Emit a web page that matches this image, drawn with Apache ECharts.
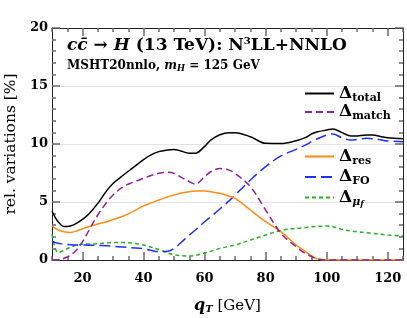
<!DOCTYPE html>
<html>
<head>
<meta charset="utf-8">
<script src="https://cdn.jsdelivr.net/npm/echarts@6/dist/echarts.min.js"></script>
<style>html,body{margin:0;padding:0;background:#fff}#c{width:407px;height:318px}</style>
</head>
<body>
<div id="c"></div>
<script>
// q_T grid [GeV]
const qValues = [10,11,12,14,16,18,20,22,25,28,30,33,36,40,42,45,48,50,52,55,57,60,62,65,68,70,75,80,85,90,93,95,97,100,102,105,108,110,113,115,118,120,125];
// relative variations [%]
const deltaTotal = [4.2,3.7,3.3,2.88,2.93,3.16,3.5,3.94,4.88,6.0,6.6,7.24,7.85,8.65,9.0,9.34,9.48,9.52,9.42,9.2,9.2,9.8,10.34,10.8,10.98,10.98,10.63,10.06,10.04,10.28,10.55,10.86,11.05,11.2,11.3,10.98,10.69,10.7,10.78,10.78,10.63,10.54,10.46];
const deltaMatch = [0,0,0.02,0.15,0.4,0.86,1.58,2.5,3.88,5.0,5.6,6.26,6.65,7.04,7.24,7.47,7.56,7.47,7.18,6.75,6.55,7.18,7.61,7.88,7.75,7.47,6.32,4.31,2.3,1.15,0.55,0.3,0.08,0,0,0,0,0,0,0,0,0,0];
const deltaRes = [2.93,2.75,2.59,2.44,2.38,2.5,2.7,2.87,3.1,3.3,3.5,3.75,4.1,4.66,4.88,5.17,5.46,5.6,5.75,5.89,5.95,5.95,5.89,5.75,5.5,5.32,4.31,3.3,2.44,1.29,0.72,0.38,0.1,0,0,0,0,0,0,0,0,0,0];
const deltaFO = [1.65,1.5,1.45,1.35,1.32,1.3,1.29,1.28,1.25,1.22,1.18,1.12,1.06,0.98,0.86,0.72,0.75,1.0,1.44,2.15,2.59,3.3,3.73,4.4,5.1,5.6,6.9,8.05,8.97,9.54,9.9,10.2,10.45,10.78,10.86,10.54,10.34,10.4,10.49,10.46,10.34,10.26,10.2];
const deltaMuF = [2.2,1.05,0.65,0.85,1.1,1.27,1.35,1.38,1.4,1.47,1.5,1.5,1.47,1.29,1.15,0.9,0.6,0.45,0.37,0.34,0.4,0.6,0.75,1.0,1.18,1.29,1.72,2.15,2.55,2.73,2.8,2.87,2.9,2.93,2.87,2.64,2.5,2.44,2.36,2.3,2.21,2.15,2.07];
// axis ticks
const xTickLabels = [20,40,60,80,100,120];
const yTickLabels = [0,5,10,15,20];

const serif = 'DejaVu Serif';
const pairs = arr => qValues.map((q,i)=>[q,arr[i]]);
const TC = 'dimgray';

const chart = echarts.init(document.getElementById('c'));

const xBase = () => ({type:'value', min:10, max:125, splitLine:{show:false}});
const yBase = () => ({type:'value', min:0, max:20, splitLine:{show:false}});

const legendNames = {
  total:'{d|Δ}{s|total}', match:'{d|Δ}{s|match}', res:'{d|Δ}{s|res}', FO:'{d|Δ}{s|FO}', muf:'{d|Δ}{m|μ}{f|f}'
};
const legendRich = {
  d:{fontFamily:serif, fontWeight:'bold', fontSize:17, lineHeight:20, color:'#000', verticalAlign:'middle'},
  s:{fontFamily:serif, fontWeight:'bold', fontSize:11, lineHeight:11, color:'#000', verticalAlign:'bottom'},
  m:{fontFamily:serif, fontWeight:'bold', fontStyle:'italic', fontSize:11, lineHeight:11, color:'#000', verticalAlign:'bottom'},
  f:{fontFamily:serif, fontWeight:'bold', fontStyle:'italic', fontSize:8, lineHeight:6, color:'#000', verticalAlign:'bottom'}
};
function legend(names, top, gap) {
  return {
    show:true, data:names, orient:'vertical', left:299, top:top, itemWidth:29, itemHeight:14, itemGap:gap,
    selectedMode:false, itemStyle:{color:'rgba(0,0,0,0)', borderWidth:0},
    formatter: n => legendNames[n],
    textStyle:{rich:legendRich}
  };
}
function line(name, arr, color, type, width, z) {
  return {
    name, type:'line', data:pairs(arr), smooth:0.35, showSymbol:false, symbol:'none', z:z||2,
    xAxisIndex:0, yAxisIndex:0,
    lineStyle:{color, width:width||1.5, type}, itemStyle:{color}
  };
}

const bI = {fontFamily:serif, fontWeight:'bold', fontStyle:'italic', fontSize:17, color:'#000'};
const bR = {fontFamily:serif, fontWeight:'bold', fontSize:17, color:'#000'};
chart.setOption({
  animation:false,
  grid:{left:52, right:4, top:28, bottom:58, outerBoundsMode:'none'},
  title:{
    left:62, top:31, itemGap:4,
    text:'{i|cc̄}{r| → }{i|H}{r| (13 TeV): N}{sup|3}{r|LL+NNLO}',
    textStyle:{fontFamily:serif, fontWeight:'bold', fontSize:17, color:'#000',
      rich:{ i:bI, r:bR,
        sup:{fontFamily:serif, fontWeight:'bold', fontSize:10, color:'#000', verticalAlign:'top', lineHeight:20}
      }},
    subtext:'{r|MSHT20nnlo, }{i|m}{sub|H}{r| = 125 GeV}',
    subtextStyle:{fontFamily:serif, fontWeight:'bold', fontSize:12, color:'#000',
      rich:{
        r:{fontFamily:serif, fontWeight:'bold', fontSize:12, color:'#000'},
        i:{fontFamily:serif, fontWeight:'bold', fontStyle:'italic', fontSize:12, color:'#000'},
        sub:{fontFamily:serif, fontWeight:'bold', fontStyle:'italic', fontSize:8.5, color:'#000', verticalAlign:'bottom', lineHeight:15}
      }}
  },
  legend:[legend(['total','match'], 80, 0), legend(['res','FO','muf'], 143, 2)],
  xAxis:[
    // 0: main bottom axis, minor ticks every 5 pointing inward, labels at 20,40,...
    Object.assign(xBase(), {position:'bottom', interval:5,
      axisLine:{show:true, lineStyle:{color:'#222', width:1}},
      axisTick:{show:true, inside:true, length:4, lineStyle:{color:TC, width:1.5}},
      axisLabel:{show:true, customValues:xTickLabels, color:'#000', fontFamily:serif, fontWeight:'bold', fontSize:13, margin:12},
      name:'{i|q}{s|T}{r| [GeV]}', nameLocation:'middle', nameGap:38,
      nameTextStyle:{fontFamily:serif, fontSize:15, color:'#000',
        rich:{i:{fontFamily:serif, fontStyle:'italic', fontWeight:'bold', fontSize:16, color:'#000'},
              r:{fontFamily:serif, fontSize:15, color:'#000'},
              s:{fontFamily:serif, fontStyle:'italic', fontWeight:'bold', fontSize:10, color:'#000', verticalAlign:'bottom', lineHeight:14}}}}),
    // 1: major ticks at the bottom edge (top-type axis sitting on y = 0), pointing up
    Object.assign(xBase(), {position:'top',
      axisLine:{show:false},
      axisTick:{show:true, inside:false, length:8, customValues:xTickLabels, lineStyle:{color:TC, width:1.5}},
      axisLabel:{show:false}}),
    // 2: top frame with minor ticks pointing down
    Object.assign(xBase(), {position:'top', interval:5,
      axisLine:{show:true, onZero:false, lineStyle:{color:'#222', width:1}},
      axisTick:{show:true, inside:true, length:4, lineStyle:{color:TC, width:1.5}},
      axisLabel:{show:false}}),
    // 3: major ticks at the top edge, pointing down
    Object.assign(xBase(), {position:'top', offset:-8,
      axisLine:{show:false, onZero:false},
      axisTick:{show:true, inside:false, length:8, customValues:xTickLabels, lineStyle:{color:TC, width:1.5}},
      axisLabel:{show:false}})
  ],
  yAxis:[
    // 0: main left axis, majors every 5
    Object.assign(yBase(), {position:'left', interval:5,
      axisLine:{show:true, lineStyle:{color:'#222', width:1}},
      axisTick:{show:true, inside:true, length:8, lineStyle:{color:TC, width:1.5}},
      axisLabel:{show:true, color:'#000', fontFamily:serif, fontWeight:'bold', fontSize:13, margin:4},
      name:'rel. variations [%]', nameLocation:'middle', nameGap:28,
      nameTextStyle:{fontFamily:serif, fontSize:15.5, color:'#000'}}),
    // 1: right frame, majors every 5
    Object.assign(yBase(), {position:'right', interval:5,
      axisLine:{show:true, lineStyle:{color:'#222', width:1}},
      axisTick:{show:true, inside:true, length:8, lineStyle:{color:TC, width:1.5}},
      axisLabel:{show:false}}),
    // 2: left minor ticks every 1
    Object.assign(yBase(), {position:'left', interval:1,
      axisLine:{show:false},
      axisTick:{show:true, inside:true, length:4, lineStyle:{color:TC, width:1.5}},
      axisLabel:{show:false}}),
    // 3: right minor ticks every 1
    Object.assign(yBase(), {position:'right', interval:1,
      axisLine:{show:false},
      axisTick:{show:true, inside:true, length:4, lineStyle:{color:TC, width:1.5}},
      axisLabel:{show:false}}),
    // 4: faint horizontal gridlines every 5
    Object.assign(yBase(), {position:'left', interval:5,
      axisLine:{show:false}, axisTick:{show:false}, axisLabel:{show:false},
      splitLine:{show:true, lineStyle:{color:'#e4e4e4', width:1.2}}})
  ],
  series:[
    line('muf', deltaMuF, '#2aae2a', [4,3], 1.5),
    line('FO', deltaFO, '#1f2fff', [11,5], 1.5),
    line('res', deltaRes, '#ff8c1a', 'solid', 1.5),
    line('match', deltaMatch, '#8e2590', [7,4], 1.5),
    line('total', deltaTotal, '#000000', 'solid', 1.5, 3)
  ]
});
</script>
</body>
</html>
